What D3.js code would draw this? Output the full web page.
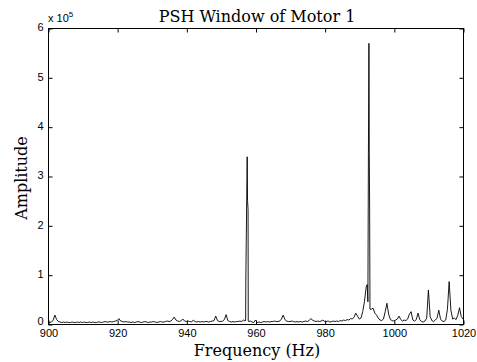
<!DOCTYPE html>
<html>
<head>
<meta charset="utf-8">
<script src="https://cdn.jsdelivr.net/npm/d3@7"></script>
<style>
  body { margin: 0; background: #fff; }
  svg { display: block; }
  .tick-label { font-family: "Liberation Sans", Arial, sans-serif; font-size: 11px; fill: #000; }
  .serif { font-family: "DejaVu Serif", "Liberation Serif", serif; fill: #000; }
</style>
</head>
<body>
<svg id="root"></svg>
<script>
(function () {
  // frequency grid: 900 .. 1020 Hz, 0.5 Hz step
  const freqStart = 900;
  const freqStep = 0.5;

  // amplitudes in thousands, one per 0.5 Hz
  const amps = [
    // 900 - 909.5
    4, 3, 4, 8, 18, 9, 5, 4, 3, 4, 3, 4, 3, 3, 4, 3, 3, 4, 3, 4,
    // 910 - 919.5
    3, 4, 3, 3, 4, 3, 4, 3, 3, 4, 4, 3, 4, 5, 4, 4, 5, 4, 5, 6,
    // 920 - 929.5
    7, 11, 6, 5, 4, 5, 4, 4, 3, 4, 3, 4, 5, 4, 3, 4, 5, 4, 3, 4,
    // 930 - 939.5
    4, 5, 4, 3, 4, 5, 4, 4, 5, 6, 5, 6, 9, 14, 8, 6, 5, 7, 10, 6,
    // 940 - 949.5
    5, 6, 5, 4, 8, 5, 4, 5, 4, 5, 4, 5, 5, 4, 5, 6, 7, 16, 7, 5,
    // 950 - 959.5
    5, 6, 9, 19, 7, 5, 4, 5, 4, 5, 5, 6, 5, 8, 6, 6, 5, 6, 4, 3,
    // 960 - 969.5
    8, 3, 4, 3, 4, 5, 4, 5, 4, 5, 5, 6, 5, 5, 6, 10, 18, 9, 6, 5,
    // 970 - 979.5
    5, 6, 5, 4, 5, 4, 5, 4, 5, 6, 5, 7, 11, 8, 6, 5, 6, 5, 6, 8,
    // 980 - 989.5
    5, 5, 6, 4, 5, 6, 5, 6, 5, 7, 6, 8, 7, 9, 8, 11, 10, 14, 22, 16,
    // 990 - 999.5
    10, 12, 25, 45, 75, 50, 40, 30, 32, 22, 18, 12, 8, 7, 10, 25, 42, 20, 9, 7,
    // 1000 - 1009.5
    6, 8, 10, 16, 9, 6, 8, 7, 10, 20, 25, 8, 6, 9, 22, 9, 5, 4, 6, 12,
    // 1010 - 1020
    69, 15, 7, 5, 8, 12, 28, 10, 6, 5, 8, 30, 86, 28, 10, 12, 9, 18, 33, 15, 10
  ];

  // the two narrow spikes, sampled finer than the grid (Hz, thousands)
  const spike1Freqs = [957.15, 957.2, 957.6, 957.7, 957.85, 957.9];
  const spike1Amps = [8, 89, 339, 250, 232, 6];
  const spike2Freqs = [992.3, 992.5, 992.65, 992.8, 992.9, 993.0, 993.1];
  const spike2Amps = [80, 45, 345, 569, 345, 235, 30];

  const xTicks = [900, 920, 940, 960, 980, 1000, 1020];
  const yTicks = [0, 1, 2, 3, 4, 5, 6]; // x 10^5

  const titleText = "PSH Window of Motor 1";
  const xLabel = "Frequency (Hz)";
  const yLabel = "Amplitude";

  const W = 477, H = 362;
  const margin = { left: 48, right: 14, top: 28, bottom: 38 };

  // merge grid and spike samples
  const spikes = [[spike1Freqs, spike1Amps], [spike2Freqs, spike2Amps]];
  let data = amps.map((a, i) => ({ f: freqStart + i * freqStep, v: a * 1000 }))
    .filter(d => !spikes.some(([fs]) => d.f >= fs[0] && d.f <= fs[fs.length - 1]));
  for (let [fs, as] of spikes) {
    fs.forEach((f, i) => data.push({ f: f, v: as[i] * 1000 }));
  }
  data.sort((a, b) => a.f - b.f);

  const svg = d3.select("#root").attr("width", W).attr("height", H);

  const x = d3.scaleLinear().domain([900, 1020]).range([margin.left, W - margin.right]);
  const y = d3.scaleLinear().domain([0, 6e5]).range([H - margin.bottom, margin.top]);

  const line = d3.line()
    .x(d => x(d.f))
    .y(d => y(d.v));

  svg.append("path")
    .datum(data)
    .attr("d", line)
    .attr("fill", "none")
    .attr("stroke", "#000")
    .attr("stroke-width", 0.9);

  // box
  svg.append("rect")
    .attr("x", x(900) + 0.5)
    .attr("y", y(6e5) + 0.5)
    .attr("width", x(1020) - x(900))
    .attr("height", y(0) - y(6e5))
    .attr("fill", "none")
    .attr("stroke", "#000")
    .attr("stroke-width", 1);

  // bottom axis, ticks inside
  const xAxis = d3.axisBottom(x).tickValues(xTicks).tickSize(-4).tickPadding(5).tickFormat(d3.format("d"));
  const gx = svg.append("g").attr("transform", `translate(0.5,${y(0) + 0.5})`).call(xAxis);
  gx.select(".domain").remove();
  gx.selectAll("text").attr("class", "tick-label").attr("fill", null);

  const xTop = d3.axisTop(x).tickValues(xTicks).tickSize(-4).tickFormat("");
  const gxt = svg.append("g").attr("transform", `translate(0.5,${y(6e5) + 0.5})`).call(xTop);
  gxt.select(".domain").remove();

  const yAxis = d3.axisLeft(y).tickValues(yTicks.map(t => t * 1e5)).tickSize(-4).tickPadding(5)
    .tickFormat(d => d / 1e5);
  const gy = svg.append("g").attr("transform", `translate(${x(900) + 0.5},0.5)`).call(yAxis);
  gy.select(".domain").remove();
  gy.selectAll("text").attr("class", "tick-label").attr("fill", null)
    .attr("dy", d => d === 0 ? "0em" : "0.2em");

  const yRight = d3.axisRight(y).tickValues(yTicks.map(t => t * 1e5)).tickSize(-4).tickFormat("");
  const gyr = svg.append("g").attr("transform", `translate(${x(1020) + 0.5},0.5)`).call(yRight);
  gyr.select(".domain").remove();

  svg.selectAll(".tick line").attr("stroke", "#000");

  // exponent label
  const expo = svg.append("text")
    .attr("class", "tick-label")
    .attr("x", x(900))
    .attr("y", y(6e5) - 6);
  expo.append("tspan").text("x 10");
  expo.append("tspan").attr("dy", -5).attr("font-size", "8px").text("5");

  // title
  svg.append("text")
    .attr("class", "serif")
    .attr("x", 257)
    .attr("y", 22)
    .attr("text-anchor", "middle")
    .attr("font-size", "16px")
    .text(titleText);

  svg.append("text")
    .attr("class", "serif")
    .attr("x", 257)
    .attr("y", 356)
    .attr("text-anchor", "middle")
    .attr("font-size", "16px")
    .text(xLabel);

  svg.append("text")
    .attr("class", "serif")
    .attr("transform", `translate(27,${(y(0) + y(6e5)) / 2 + 2}) rotate(-90)`)
    .attr("text-anchor", "middle")
    .attr("font-size", "16px")
    .text(yLabel);
})();
</script>
</body>
</html>
